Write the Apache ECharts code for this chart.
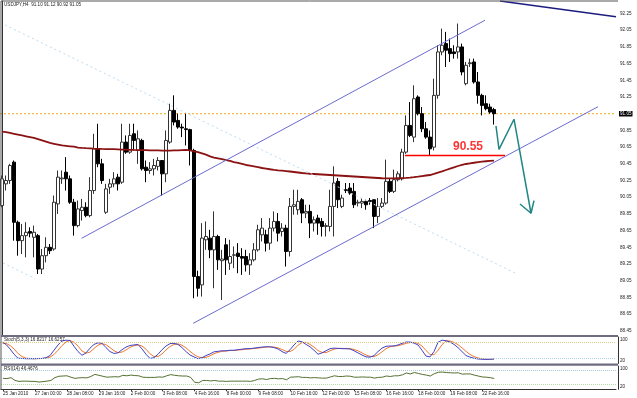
<!DOCTYPE html>
<html><head><meta charset="utf-8">
<script src="https://cdn.jsdelivr.net/npm/echarts@6/dist/echarts.min.js"></script>
<style>html,body{margin:0;padding:0;background:#fff;}#c{width:637px;height:398px;}</style>
</head><body><div id="c"></div>
<script>
const symbolName = 'USDJPY,H4';
const tickLabels = ['25 Jan 2010','27 Jan 00:00','28 Jan 08:00','29 Jan 16:00','2 Feb 00:00','3 Feb 08:00','4 Feb 16:00','8 Feb 00:00','9 Feb 08:00','10 Feb 16:00','12 Feb 00:00','15 Feb 08:00','16 Feb 16:00','18 Feb 00:00','19 Feb 08:00','22 Feb 16:00'];
const opens = [89.95,90.21,90.25,90.47,89.75,89.53,89.59,89.64,89.57,89.59, 89.19,89.35,89.45,89.43,89.97,90.27,90.35,90.27,89.99,89.71, 89.89,89.93,89.83,90.13,90.63,90.45,89.87,90.17,90.21,90.29, 90.23,90.71,90.59,90.81,90.61,90.73,90.41,90.37,90.39,90.42, 90.49,90.33,90.71,91.09,90.97,90.89,90.87,90.86,90.61,89.10, 89.00,89.54,89.56,89.42,89.58,89.29,89.48,89.26,89.355,89.38, 89.34,89.34,89.24,89.30,89.42,89.60,89.60,89.50,89.68,89.76, 89.64,89.68,89.40,89.94,89.90,90.02,89.86,89.88,89.74,89.80, 89.76,89.70,89.70,89.94,90.24,89.94,90.14,90.16,90.12,89.98, 89.98,90.00,90.01,90.02,89.82,89.94,89.98,90.24,90.12,90.26, 90.27,90.59,90.91,90.77,91.25,91.05,90.87,90.77,90.65,91.27, 91.79,91.89,91.83,91.79,91.79,91.85,91.41,91.65,91.67,91.43, 91.27,91.17,91.13,91.10];
const highs = [90.31,90.31,90.45,90.49,89.77,89.73,89.75,89.69,89.71,89.61, 89.43,89.57,89.49,90.07,90.37,90.37,90.53,90.31,90.03,90.01, 90.03,89.99,90.29,90.81,90.93,90.51,90.21,90.27,90.35,90.33, 90.93,90.79,90.93,90.93,90.85,90.75,90.49,90.47,90.51,90.53, 90.49,90.85,91.17,91.27,91.05,90.93,91.05,90.87,90.63,89.17, 89.74,89.76,89.66,89.88,89.60,89.42,89.56,89.54,89.46,89.50, 89.44,89.42,89.38,89.50,89.72,89.80,89.66,89.80,89.88,89.86, 89.74,89.72,90.04,90.14,90.14,90.04,89.96,89.96,89.82,89.84, 89.80,89.74,90.14,90.42,90.28,90.08,90.22,90.22,90.22,90.02, 90.04,90.02,90.04,90.02,90.04,90.04,90.50,90.28,90.38,90.36, 90.63,91.03,91.19,91.39,91.27,91.13,90.95,90.85,91.47,91.87, 92.07,92.03,91.95,91.87,92.13,91.89,91.67,91.71,91.71,91.55, 91.29,91.27,91.17,91.12];
const lows = [89.93,90.13,90.21,89.53,89.35,89.37,89.33,89.57,89.33,89.13, 89.13,89.27,89.37,89.41,89.85,90.21,90.13,89.97,89.59,89.69, 89.77,89.81,89.81,90.09,90.41,90.21,89.85,90.09,90.17,90.13, 90.21,90.57,90.57,90.61,90.45,90.37,90.23,90.33,90.31,90.37, 90.07,90.23,90.69,90.91,90.87,90.77,90.67,90.43,88.84,88.86, 88.86,89.42,89.32,88.96,89.18,88.82,89.12,89.18,89.20,89.14, 89.12,89.16,89.12,89.28,89.40,89.52,89.40,89.42,89.64,89.52, 89.58,89.22,89.34,89.84,89.84,89.74,89.80,89.56,89.64,89.60, 89.58,89.58,89.64,89.58,89.92,89.92,90.10,90.08,89.92,89.94, 89.92,89.90,89.96,89.68,89.74,89.92,89.96,90.10,90.10,90.24, 90.25,90.57,90.77,90.71,91.03,90.83,90.75,90.55,90.61,91.23, 91.75,91.61,91.67,91.71,91.71,91.51,91.39,91.61,91.41,91.17, 91.03,91.09,91.05,90.92];
const closes = [90.27,90.25,90.43,89.75,89.53,89.59,89.63,89.62,89.63,89.19, 89.35,89.45,89.41,89.99,90.29,90.28,90.27,89.99,89.71,89.91, 89.93,89.83,90.13,90.63,90.45,90.25,90.15,90.21,90.27,90.21, 90.71,90.59,90.79,90.73,90.75,90.39,90.37,90.39,90.43,90.49, 90.33,90.73,91.09,90.95,90.89,90.88,90.86,90.61,89.10,88.96, 89.56,89.58,89.42,89.58,89.30,89.31,89.30,89.34,89.36,89.34, 89.32,89.24,89.30,89.42,89.66,89.68,89.50,89.68,89.76,89.62, 89.68,89.40,89.94,89.96,90.00,89.86,89.88,89.74,89.78,89.74, 89.70,89.71,89.94,90.22,90.02,90.04,90.13,90.10,89.96,89.99, 90.00,89.96,90.00,89.82,89.94,89.98,90.24,90.12,90.26,90.33, 90.59,90.91,90.79,91.23,91.05,90.87,90.77,90.63,91.27,91.79, 91.87,91.81,91.77,91.77,91.85,91.55,91.63,91.66,91.43,91.27, 91.15,91.11,91.07,91.05];
const maValues = [90.835,90.83,90.82,90.81,90.80,90.79,90.78,90.77,90.76,90.745, 90.73,90.715,90.70,90.69,90.68,90.67,90.665,90.66,90.655,90.645, 90.64,90.637,90.635,90.632,90.63,90.628,90.627,90.626,90.625,90.623, 90.621,90.62,90.618,90.616,90.615,90.614,90.613,90.612,90.611,90.61, 90.608,90.607,90.607,90.61,90.612,90.615,90.618,90.61,90.60,90.59, 90.575,90.56,90.54,90.525,90.515,90.505,90.495,90.485,90.47,90.46, 90.448,90.436,90.428,90.42,90.41,90.40,90.393,90.385,90.378,90.372, 90.368,90.363,90.358,90.352,90.346,90.34,90.335,90.331,90.328,90.325, 90.322,90.319,90.316,90.313,90.31,90.307,90.304,90.301,90.298,90.295, 90.292,90.289,90.286,90.283,90.28,90.277,90.276,90.276,90.276,90.277, 90.278,90.281,90.285,90.29,90.296,90.303,90.31,90.316,90.33,90.345, 90.36,90.376,90.392,90.408,90.424,90.437,90.448,90.456,90.463,90.47, 90.476,90.481,90.485,90.488];
const stochK = [81,72,55,35,20,19,18,18,18,19, 19,22,30,50,70,85,88,87,65,45, 31,40,58,72,78,76,60,45,38,40, 52,62,68,70,72,55,35,19,22,35, 52,66,75,76,72,60,45,32,25,18, 22,30,36,44,46,48,48,50,50,52, 54,56,56,58,60,62,63,63,60,55, 45,38,52,70,85,82,72,63,50,35, 40,48,56,58,57,56,56,55,48,40, 32,25,24,30,45,58,65,66,66,70, 76,81,81,77,70,50,28,25,45,80, 88,86,81,72,60,45,30,24,20,17, 16,15.5,16,16.8217];
const stochD = [78,76,68,55,38,26,20,19,18,18, 19,20,24,34,50,68,81,87,80,66, 47,39,43,57,69,75,71,60,48,41, 43,51,61,67,70,66,54,37,26,26, 36,51,64,72,74,69,59,46,34,25, 22,23,29,37,42,46,47,49,49,51, 52,54,55,57,58,60,62,63,62,59, 53,46,45,53,69,79,80,72,62,49, 42,41,48,54,57,57,56,56,53,48, 40,32,27,26,33,44,56,63,66,67, 71,76,79,80,76,66,49,34,33,50, 71,85,85,80,71,59,46,34,26,21, 18,16.5,16.2,16.6257];
const rsiValues = [47,46,50,38,34,35,35,34,34,31, 33,35,38,50,56,57,58,52,47,49, 50,49,55,64,60,56,52,53,54,53, 60,58,61,59,58,52,51,51,51,53, 52,58,63,60,58,57,57,51,30,28, 38,38,36,38,35,35,34,35,35,35, 35,35,34,38,44,45,42,46,47,45, 46,41,52,53,54,51,51,49,50,49, 48,48,53,58,55,55,57,56,52,52, 53,52,52,48,51,52,57,55,58,58, 62,70,66,72,68,64,61,57,67,73, 74,72,71,70,71,65,66,66,61,57, 53,52,50,46.4676];
// annotation anchor points: [bar index, price]
const upperChannel = [[19.9, 89.558], [120.75, 92.17]];
const lowerChannel = [[47.8, 88.54], [149, 91.134]];
const navyLine = [[124.5, 92.40], [153.5, 92.21]];
const faintLineA = [[0.75, 92.113], [128.25, 89.143]];
const faintLineB = [[0.25, 89.263], [8.25, 89.077]];
const supportLevel = [[100.75, 90.55], [125.75, 90.55]];
const supportLabel = [[116.5, 90.655]];
const arrowPath = [[123.5, 90.903], [124.25, 90.624], [128, 90.984], [132.25, 89.858]];
const arrowHeadL = [[129.5, 89.969], [132.25, 89.858]];
const arrowHeadR = [[133, 90.009], [132.25, 89.858]];
const stochLevels = [80, 20];
const rsiLevels = [80, 20];

const N = 154;
const cats = Array.from({length: N}, (_, i) => String(i));
const candleData = opens.map((o, i) => [o, closes[i], lows[i], highs[i]]);
const last = closes.length - 1;
const bid = closes[last];
const bidLine = [[-0.5, bid], [N - 0.5, bid]];
const FS = 4.6;
const FF = 'Liberation Sans, Arial, sans-serif';

const chart = echarts.init(document.getElementById('c'), null, {renderer: 'canvas'});
const lineSeries = (name, data, color, width, type) => ({
  name, type: 'line', xAxisIndex: 3, yAxisIndex: 0, data, symbol: 'none', silent: true,
  lineStyle: {color, width, type: type || 'solid'}, z: 4
});
const bidSeries = lineSeries('bid', bidLine, '#f2a818', 1, [2, 2]);
bidSeries.z = 2;
bidSeries.clip = false;
bidSeries.endLabel = {show: true, distance: 3, formatter: bid.toFixed(2), color: '#ffffff', backgroundColor: '#000000',
  fontSize: FS, fontFamily: FF, padding: [0.5, 1, 0, 1]};

chart.setOption({
  animation: false,
  backgroundColor: '#ffffff',
  grid: [
    {left: 0, width: 616, top: 1, height: 334},
    {left: 0, width: 616, top: 337, height: 26.5},
    {left: 0, width: 616, top: 366, height: 23.3}
  ],
  xAxis: [
    {type: 'category', gridIndex: 0, data: cats, show: false},
    {type: 'category', gridIndex: 1, data: cats, show: false},
    {type: 'category', gridIndex: 2, data: cats,
      axisLine: {show: true, lineStyle: {color: '#333', width: 1}},
      axisTick: {show: true, length: 2, alignWithLabel: true, lineStyle: {color: '#333'},
        interval: (idx) => idx % 8 === 0 && idx / 8 < tickLabels.length},
      axisLabel: {show: true, interval: 7, margin: 2, align: 'left', fontSize: FS, fontFamily: FF, color: '#222',
        formatter: (v, idx) => (idx % 8 === 0 && tickLabels[idx / 8]) ? tickLabels[idx / 8] : ''},
      splitLine: {show: false}},
    {type: 'value', gridIndex: 0, min: -0.5, max: N - 0.5, show: false}
  ],
  yAxis: [
    {type: 'value', gridIndex: 0, position: 'right', offset: 2, min: 88.40, max: 92.40, interval: 0.05, scale: true,
      axisLine: {show: true, lineStyle: {color: '#333', width: 1}}, axisTick: {show: false}, splitLine: {show: false},
      axisLabel: {margin: 2, fontSize: FS, fontFamily: FF, color: '#222',
        formatter: (v) => {
          const k = Math.round((v - 88.45) / 0.05);
          if (k < 0 || k % 4 !== 0) return '';
          if (Math.abs(v - bid) < 0.03) return '';
          return v.toFixed(2);
        }}},
    {type: 'value', gridIndex: 1, position: 'right', offset: 2, min: 0, max: 100, interval: 20,
      axisLine: {show: true, lineStyle: {color: '#333', width: 1}}, axisTick: {show: false}, splitLine: {show: false},
      axisLabel: {margin: 2, fontSize: FS, fontFamily: FF, color: '#222', verticalAlign: 'top',
        formatter: (v) => (v === 100 || v === 20) ? String(v) : ''}},
    {type: 'value', gridIndex: 2, position: 'right', offset: 2, min: 0, max: 100, interval: 20,
      axisLine: {show: true, lineStyle: {color: '#333', width: 1}}, axisTick: {show: false}, splitLine: {show: false},
      axisLabel: {margin: 2, fontSize: FS, fontFamily: FF, color: '#222', verticalAlign: 'top',
        formatter: (v) => (v === 100 || v === 20) ? String(v) : ''}}
  ],
  series: [
    {name: 'price', type: 'candlestick', xAxisIndex: 0, yAxisIndex: 0, data: candleData, barWidth: 3, silent: true, z: 3,
      itemStyle: {color: '#ffffff', color0: '#000000', borderColor: '#333333', borderColor0: '#000000', borderWidth: 1}},
    bidSeries,
    {name: 'MA', type: 'line', xAxisIndex: 0, yAxisIndex: 0, data: maValues, symbol: 'none', silent: true, z: 4,
      lineStyle: {color: '#8b1212', width: 1.8}},
    lineSeries('faintA', faintLineA, '#bcdcf2', 1, [2, 3]),
    lineSeries('faintB', faintLineB, '#bcdcf2', 1, [2, 3]),
    lineSeries('upperChannel', upperChannel, '#6b6bd0', 1),
    lineSeries('lowerChannel', lowerChannel, '#6b6bd0', 1),
    lineSeries('navy', navyLine, '#1c1c80', 1.5),
    lineSeries('support', supportLevel, '#ff0000', 1.5),
    lineSeries('arrow', arrowPath, '#1f8585', 1.5),
    lineSeries('arrowL', arrowHeadL, '#1f8585', 1.5),
    lineSeries('arrowR', arrowHeadR, '#1f8585', 1.5),
    {name: 'supportLabel', type: 'scatter', xAxisIndex: 3, yAxisIndex: 0, data: supportLabel, symbolSize: 0, silent: true, z: 6,
      label: {show: true, position: 'inside', formatter: supportLevel[0][1].toFixed(2), color: '#ff0000', fontWeight: 'bold',
        fontSize: 12, fontFamily: FF}},
    {name: 'K', type: 'line', xAxisIndex: 1, yAxisIndex: 1, data: stochK, symbol: 'none', silent: true, z: 4,
      lineStyle: {color: '#4343c8', width: 1},
      markLine: {silent: true, symbol: ['none', 'none'], label: {show: false},
        data: [{yAxis: stochLevels[0], lineStyle: {color: '#d9cc80', type: 'dotted', width: 1}},
               {yAxis: stochLevels[1], lineStyle: {color: '#a8d6e6', type: 'dotted', width: 1}}]}},
    {name: 'D', type: 'line', xAxisIndex: 1, yAxisIndex: 1, data: stochD, symbol: 'none', silent: true, z: 3,
      lineStyle: {color: '#f07a30', width: 1}},
    {name: 'RSI', type: 'line', xAxisIndex: 2, yAxisIndex: 2, data: rsiValues, symbol: 'none', silent: true, z: 4,
      lineStyle: {color: '#55702f', width: 1},
      markLine: {silent: true, symbol: ['none', 'none'], label: {show: false},
        data: [{yAxis: rsiLevels[0], lineStyle: {color: '#a8c8d8', type: 'dotted', width: 1}},
               {yAxis: rsiLevels[1], lineStyle: {color: '#b8dca8', type: 'dotted', width: 1}}]}}
  ],
  graphic: [
    {type: 'line', shape: {x1: 1, y1: 1, x2: 618, y2: 1}, style: {stroke: '#555', lineWidth: 1}, z: 10},
    {type: 'line', shape: {x1: 1, y1: 1, x2: 1, y2: 390}, style: {stroke: '#555', lineWidth: 1}, z: 10},
    {type: 'rect', shape: {x: 1, y: 335, width: 617, height: 2}, style: {fill: '#6f6c80'}, z: 10},
    {type: 'rect', shape: {x: 1, y: 363.5, width: 617, height: 2.2}, style: {fill: '#6f6c80'}, z: 10},
    {type: 'text', left: 4, top: 2.5, z: 11, style: {text: `${symbolName}  ${opens[last].toFixed(2)} ${highs[last].toFixed(2)} ${lows[last].toFixed(2)} ${closes[last].toFixed(2)}`, fontSize: FS, fontFamily: FF, fill: '#222'}},
    {type: 'text', left: 4, top: 337.5, z: 11, style: {text: `Stoch(5,3,3) ${stochK[last].toFixed(4)} ${stochD[last].toFixed(4)}`, fontSize: FS, fontFamily: FF, fill: '#222'}},
    {type: 'text', left: 4, top: 366.5, z: 11, style: {text: `RSI(14) ${rsiValues[last].toFixed(4)}`, fontSize: FS, fontFamily: FF, fill: '#222'}}
  ]
});
</script>
</body></html>
